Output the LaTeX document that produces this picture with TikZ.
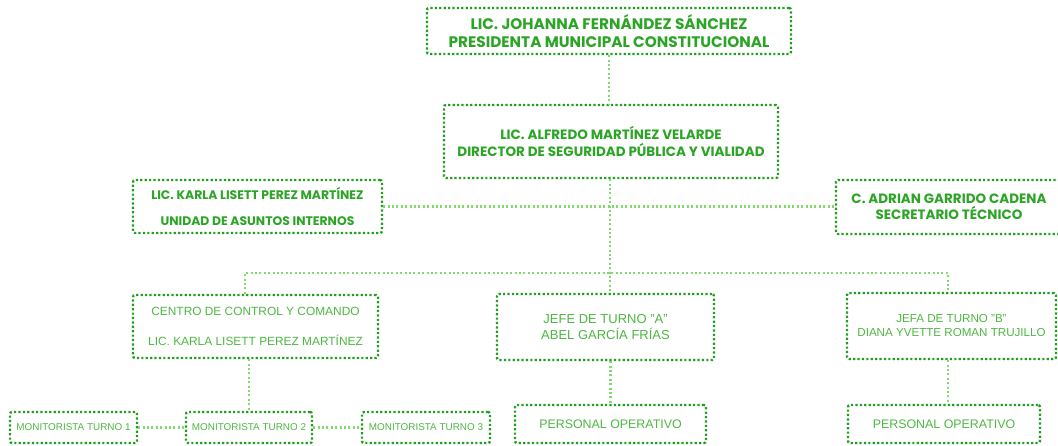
\documentclass[tikz,border=0pt]{standalone}
\usepackage{fontspec}
\setmainfont{Liberation Sans}
\newfontfamily\headfont{Poppins}
\definecolor{boxgreen}{RGB}{34,158,30}
\definecolor{linegreen}{RGB}{130,218,110}
\definecolor{headtext}{RGB}{44,165,38}
\definecolor{bodytext}{RGB}{78,182,66}
\begin{document}
\begin{tikzpicture}[x=1pt,y=-1pt,
  orgbox/.style={draw=boxgreen, line width=2.4pt, dash pattern=on 2.2pt off 2.2pt,
    rounded corners=2pt, align=center, inner sep=0pt},
  headbox/.style={orgbox, text=headtext, font=\headfont\bfseries},
  bodybox/.style={orgbox, text=bodytext},
  conn/.style={draw=linegreen, line width=2.2pt, dash pattern=on 2pt off 2.4pt}]
\useasboundingbox (0,0) rectangle (1058,445);

\coordinate (j) at (610,273);
\coordinate (jL) at (245,273);
\coordinate (jR) at (948,273);

% nodes
\node[headbox, minimum width=364, minimum height=46, font=\headfont\bfseries\fontsize{15.3}{18}\selectfont] (pres) at (609,31)
  {LIC. JOHANNA FERNÁNDEZ SÁNCHEZ\\PRESIDENTA MUNICIPAL CONSTITUCIONAL};
\node[headbox, minimum width=334, minimum height=73, font=\headfont\bfseries\fontsize{13.5}{17}\selectfont] (dir) at (611,141.5)
  {LIC. ALFREDO MARTÍNEZ VELARDE\\DIRECTOR DE SEGURIDAD PÚBLICA Y VIALIDAD};
\node[headbox, minimum width=249, minimum height=53, font=\headfont\bfseries\fontsize{12.4}{26}\selectfont] (uai) at (257.5,206.5)
  {LIC. KARLA LISETT PEREZ MARTÍNEZ\\UNIDAD DE ASUNTOS INTERNOS};
\node[headbox, minimum width=226, minimum height=54, font=\headfont\bfseries\fontsize{13.5}{16}\selectfont] (sec) at (949,207)
  {C. ADRIAN GARRIDO CADENA\\SECRETARIO TÉCNICO};
\node[bodybox, minimum width=245, minimum height=63, font=\fontsize{11.9}{30}\selectfont] (ccc) at (255.5,326.5)
  {CENTRO DE CONTROL Y COMANDO\\LIC. KARLA LISETT PEREZ MARTÍNEZ};
\node[bodybox, minimum width=217, minimum height=66, font=\fontsize{13}{16}\selectfont] (ja) at (605.5,327)
  {JEFE DE TURNO "A"\\ABEL GARCÍA FRÍAS};
\node[bodybox, minimum width=209, minimum height=66, font=\fontsize{11.6}{14}\selectfont] (jb) at (951.5,326)
  {JEFA DE TURNO "B"\\DIANA YVETTE ROMAN TRUJILLO};
\node[bodybox, minimum width=127, minimum height=31, font=\fontsize{9.9}{11}\selectfont] (m1) at (73.5,427.5) {MONITORISTA TURNO 1};
\node[bodybox, minimum width=126, minimum height=31, font=\fontsize{9.9}{11}\selectfont] (m2) at (249,427.5) {MONITORISTA TURNO 2};
\node[bodybox, minimum width=128, minimum height=31, font=\fontsize{9.9}{11}\selectfont] (m3) at (426,427.5) {MONITORISTA TURNO 3};
\node[bodybox, minimum width=191, minimum height=38, font=\fontsize{12.4}{14}\selectfont] (po1) at (610.5,424) {PERSONAL OPERATIVO};
\node[bodybox, minimum width=192, minimum height=38, font=\fontsize{12.4}{14}\selectfont] (po2) at (944,424) {PERSONAL OPERATIVO};

% connectors
\draw[conn] (pres.south) -- (pres.south |- dir.north);
\draw[conn] (uai.east) -- (uai.east -| sec.west);
\draw[conn] (dir.south -| j) -- (j) -- (j |- ja.north);
\draw[conn] (jL |- ccc.north) -- (jL) -- (jR) -- (jR |- jb.north);
\draw[conn] (ccc.south -| m2) -- (m2.north);
\draw[conn] (m1.east) -- (m2.west);
\draw[conn] (m2.east) -- (m3.west);
\draw[conn] (ja.south -| po1) -- (po1.north);
\draw[conn] (jb.south -| jR) -- (jR |- po2.north);
\end{tikzpicture}
\end{document}
